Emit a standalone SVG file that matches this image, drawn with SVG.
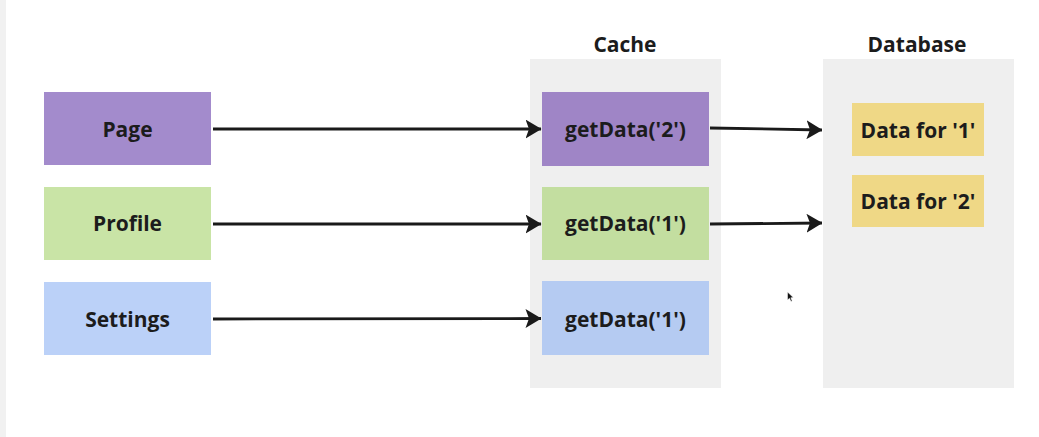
<svg xmlns="http://www.w3.org/2000/svg" width="1039" height="437" viewBox="0 0 1039 437">
<style>
  .lbl{font-family:"Open Sans","Noto Sans","Liberation Sans",sans-serif;font-weight:700;font-size:21px;fill:#1c1c1c;text-anchor:middle;dominant-baseline:central}
  .title{font-family:"Open Sans","Noto Sans","Liberation Sans",sans-serif;font-weight:700;font-size:21px;fill:#1c1c1c;text-anchor:middle}
  .panel{fill:#efefef}
  .conn{stroke:#1a1a1a;stroke-width:2.8;fill:none;marker-end:url(#ah)}
</style>
<defs>
  <marker id="ah" viewBox="0 0 16 19" refX="15.5" refY="9.5" markerWidth="16" markerHeight="19" markerUnits="userSpaceOnUse" orient="auto">
    <path d="M0,0 L16,9.5 L0,19 L3.5,9.5 Z" fill="#1a1a1a"/>
  </marker>
</defs>
<rect width="1039" height="437" fill="#ffffff"/>
<rect x="0" y="0" width="6" height="437" fill="#f1f1f1"/>

<g id="cache">
  <rect class="panel" x="530" y="59" width="191" height="329"/>
  <text class="title" x="625" y="52">Cache</text>
</g>
<g id="database">
  <rect class="panel" x="823" y="59" width="191" height="329"/>
  <text class="title" x="917" y="52">Database</text>
</g>

<g id="page">
  <rect x="44" y="92" width="167" height="73" fill="#a38bcc"/>
  <text class="lbl" x="127.5" y="129">Page</text>
</g>
<g id="profile">
  <rect x="44" y="187" width="167" height="73" fill="#c9e4a6"/>
  <text class="lbl" x="127.5" y="223">Profile</text>
</g>
<g id="settings">
  <rect x="44" y="282" width="167" height="73" fill="#bbd1f8"/>
  <text class="lbl" x="127.5" y="319">Settings</text>
</g>

<g id="cache-page">
  <rect x="542" y="92" width="167" height="74" fill="#9f85c6"/>
  <text class="lbl" x="625.5" y="129">getData('2')</text>
</g>
<g id="cache-profile">
  <rect x="542" y="187" width="167" height="73" fill="#c3dea0"/>
  <text class="lbl" x="625.5" y="223">getData('1')</text>
</g>
<g id="cache-settings">
  <rect x="542" y="281" width="167" height="74" fill="#b5cbf2"/>
  <text class="lbl" x="625.5" y="319">getData('1')</text>
</g>

<g id="data1">
  <rect x="852" y="103" width="132" height="53" fill="#efd886"/>
  <text class="lbl" x="918" y="129.5">Data for '1'</text>
</g>
<g id="data2">
  <rect x="852" y="175" width="132" height="52" fill="#efd886"/>
  <text class="lbl" x="918" y="201">Data for '2'</text>
</g>

<g id="connectors">
  <path class="conn" d="M213,129 L541,129"/>
  <path class="conn" d="M213,224 L541,224"/>
  <path class="conn" d="M213,319 L541,318.5"/>
  <path class="conn" d="M710,128 L822,130"/>
  <path class="conn" d="M710,224 L822,223"/>
</g>

<g id="cursor">
  <path d="M787.5,292 L787.5,300 L789.5,298.3 L791,301.5 L792.2,301 L790.8,297.8 L793.3,297.6 Z" fill="#111" stroke="#fff" stroke-width="0.5"/>
</g>
</svg>
